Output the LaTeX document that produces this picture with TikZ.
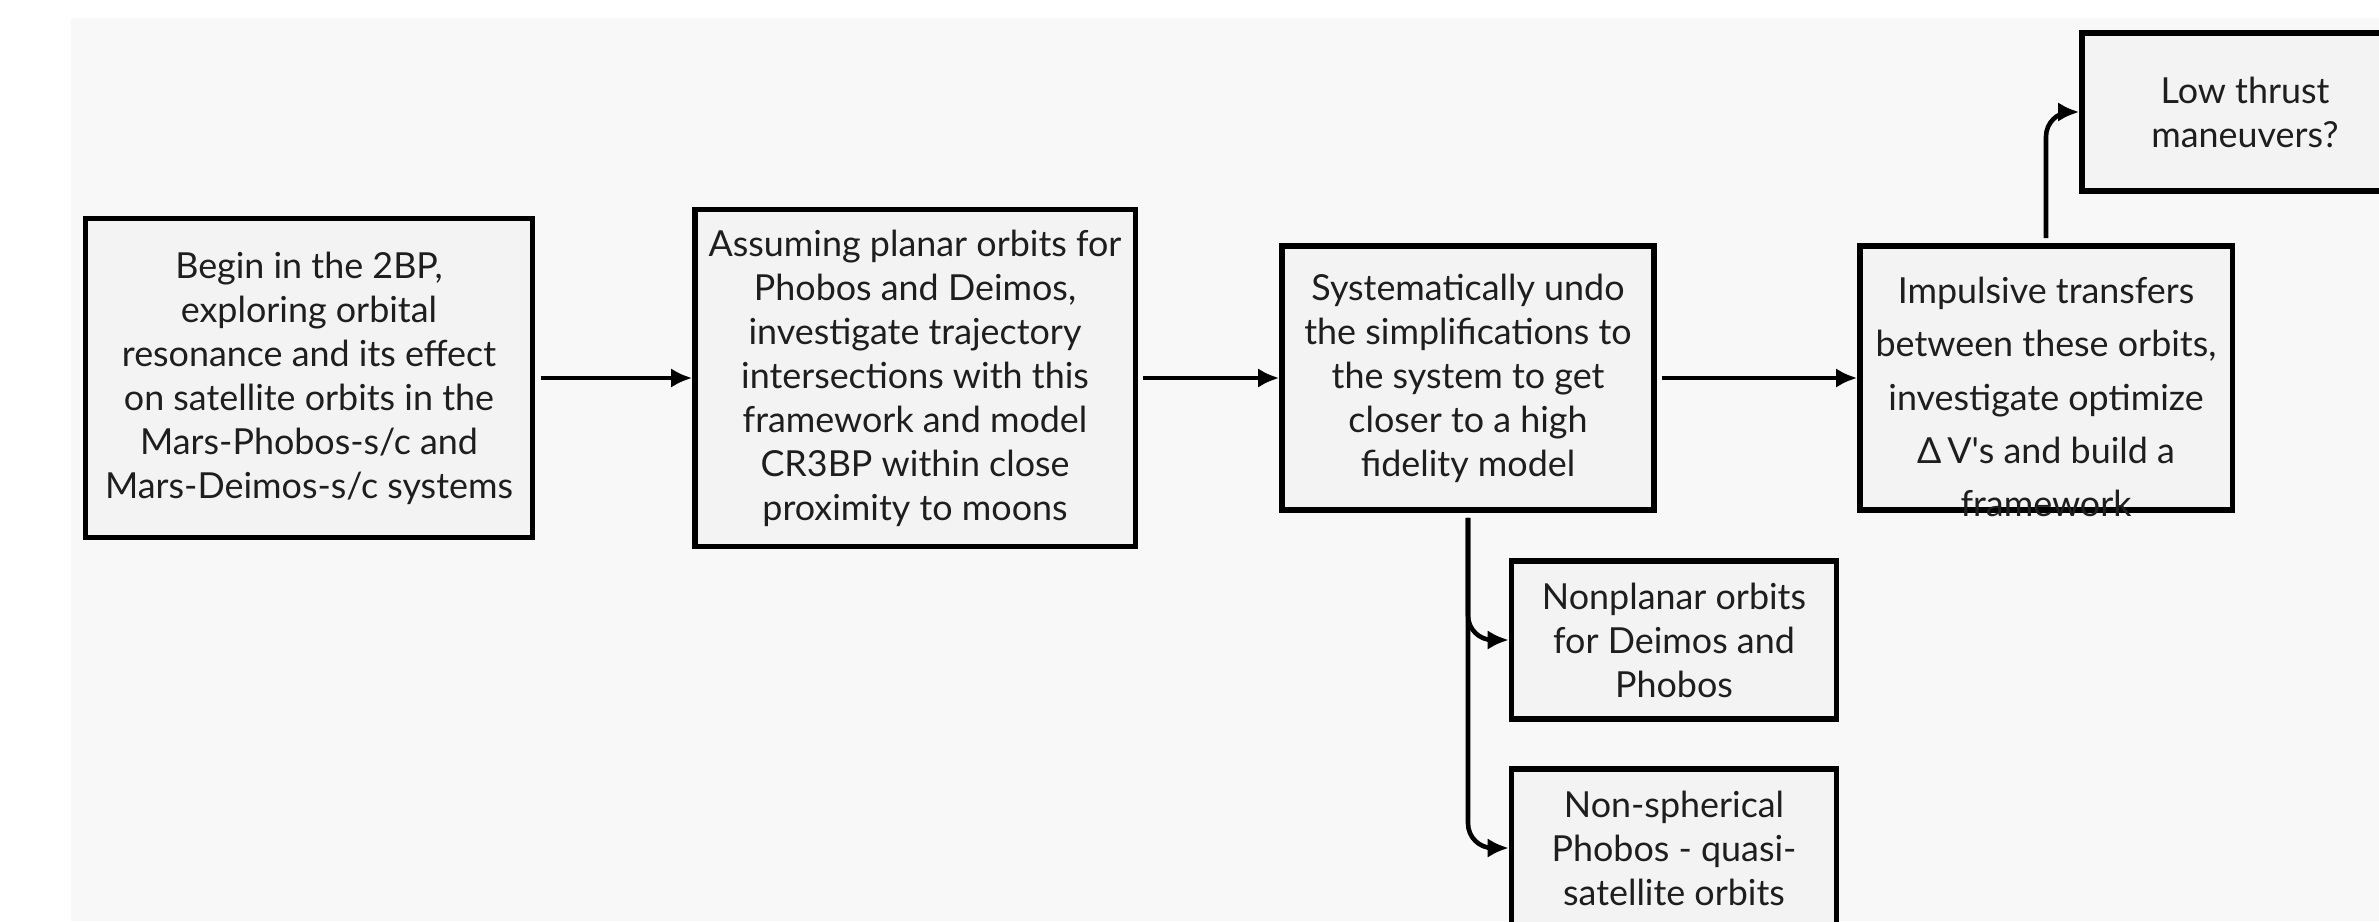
\documentclass[tikz,border=0pt]{standalone}
\usepackage{fontspec}
\setmainfont{Lato}
\usetikzlibrary{arrows.meta}
\definecolor{bgcol}{HTML}{F8F8F8}
\definecolor{boxcol}{HTML}{F3F3F3}
\definecolor{txtcol}{HTML}{1E1E1E}

\begin{document}
\begin{tikzpicture}
    [x = 0.01cm, y = -0.01cm,
     every node/.style = {rectangle, draw = black, line width = 1.5pt, fill = boxcol, inner sep = 2pt,
       text = txtcol, align = center, font = \fontsize{10.2}{12.5}\selectfont},
     flow/.style = {line width = 1.3pt, -{Latex[length=6pt,width=5.5pt]}, shorten <= 1.5pt},
     bare/.style = {draw = none, fill = none}]
    \useasboundingbox (0,0) rectangle (2379,921);
    \clip (0,0) rectangle (2379,921);
    \fill[bgcol] (71,18) rectangle (2379,921);
    \node[minimum width = 4.47cm, minimum height = 3.19cm] (n1) at (309,378)
      {Begin in the 2BP,\\exploring orbital\\resonance and its effect\\on satellite orbits in the\\Mars-Phobos-s/c and\\Mars-Deimos-s/c systems};
    \node[minimum width = 4.40cm, minimum height = 3.37cm] (n2) at (915,378)
      {Assuming planar orbits for\\Phobos and Deimos,\\investigate trajectory\\intersections with this\\framework and model\\CR3BP within close\\proximity to moons};
    \node[minimum width = 3.72cm, minimum height = 2.64cm] (n3) at (1468,378)
      {Systematically undo\\the simplifications to\\the system to get\\closer to a high\\fidelity model};
    \node[minimum width = 3.72cm, minimum height = 2.64cm] (n4) at (2046,378) {};
    \node[bare, font = \fontsize{10.2}{15.1}\selectfont] (t4) at (2046,397)
      {Impulsive transfers\\between these orbits,\\investigate optimize\\Δ\,V\textquotesingle s and build a\\framework};
    \node[minimum width = 3.26cm, minimum height = 1.58cm] (n5) at (2245,112)
      {Low thrust\\maneuvers?};
    \node[minimum width = 3.25cm, minimum height = 1.58cm] (n6) at (1674,640)
      {Nonplanar orbits\\for Deimos and\\Phobos};
    \node[minimum width = 3.25cm, minimum height = 1.58cm] (n7) at (1674,848)
      {Non-spherical\\Phobos - quasi-\\satellite orbits};
    \foreach \from/ \to in {n1/n2,n2/n3,n3/n4}
      \draw[flow] (\from) -- (\to);
    \foreach \to in {n6,n7}
      \draw[flow, rounded corners = 7pt] (n3.south) |- (\to.west);
    \draw[flow, rounded corners = 7pt] (n4.north) |- (n5.west);
  \end{tikzpicture}
\end{document}
